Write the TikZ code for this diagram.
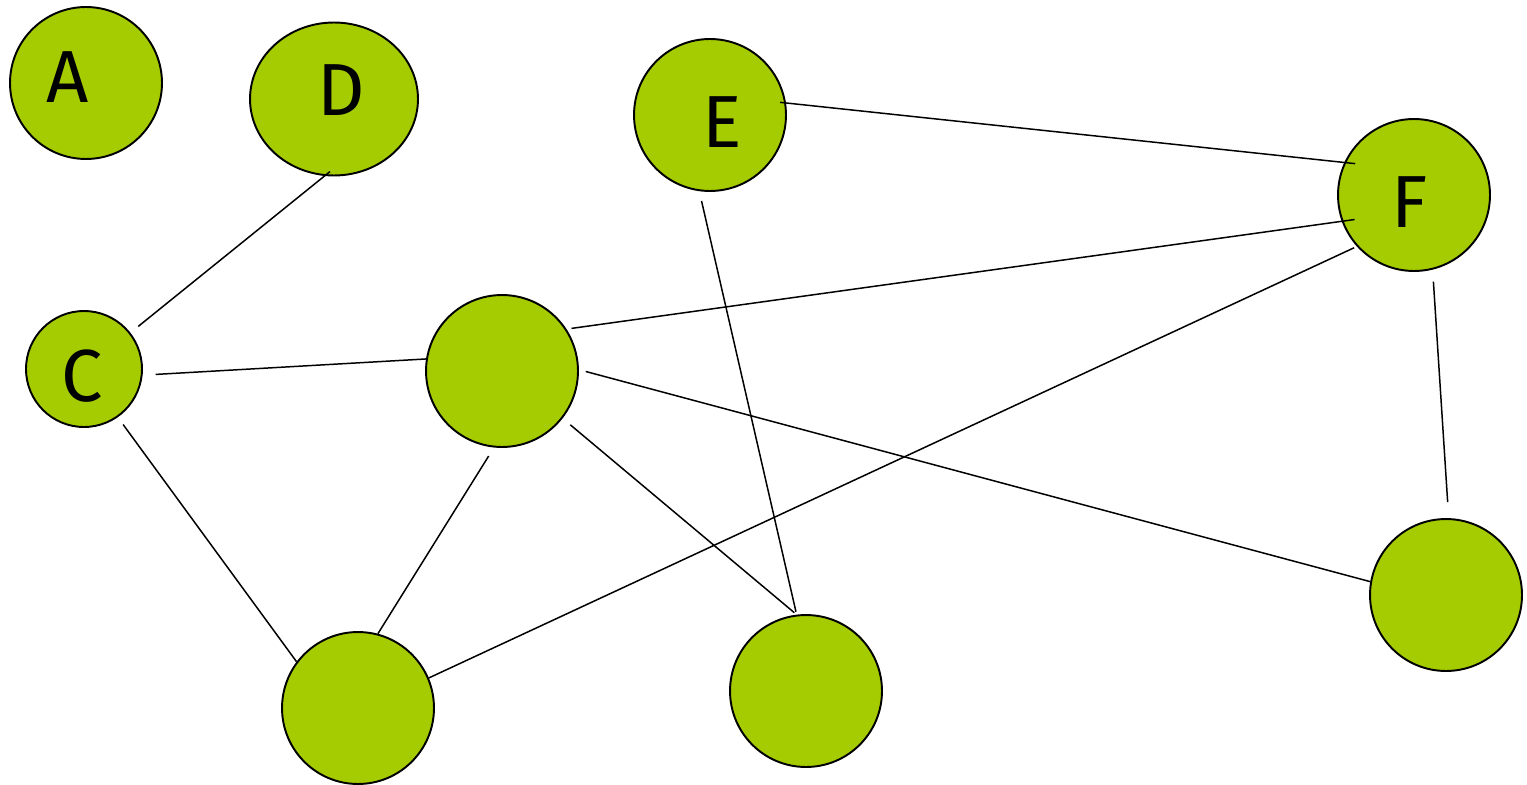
\documentclass[tikz,border=0pt]{standalone}
\usepackage{fontspec}
\setmainfont{Fira Sans}
\usepackage{tikz}
\usetikzlibrary{
  shapes.geometric,
}

\definecolor{vgreen}{HTML}{A5CC00}

\begin{document}
\begin{tikzpicture}[
  x=0.02cm, y=-0.02cm,
  vertex/.style={circle, draw, line width=1.1pt, fill=vgreen, inner sep=0pt, minimum size=3.04cm},
  letter/.style={inner sep=0pt, font=\fontsize{42}{44}\selectfont},
  edge/.style={line width=0.85pt},
]
  \useasboundingbox (0,0) rectangle (1527,784);

  % Vertices
  \node[vertex] (A)  at (86,83)   {};
  \node[vertex, ellipse, minimum width=3.36cm, minimum height=3.06cm] (D) at (334,99) {};
  \node[vertex] (E)  at (710,115) {};
  \node[vertex] (F)  at (1414,195) {};
  \node[vertex, minimum size=2.32cm] (C) at (84,369) {};
  \node[vertex] (M)  at (502,371) {};
  \node[vertex] (BL) at (358,708) {};
  \node[vertex] (BM) at (806,691) {};
  \node[vertex] (R)  at (1446,595) {};

  % Letters
  \node[letter] (A-text) at (68,77)   {A};
  \node[letter] (D-text) at (341,90)  {D};
  \node[letter] (E-text) at (722,122) {E};
  \node[letter] (F-text) at (1410,202) {F};
  \node[letter] (C-text) at (82,376)  {C};

  % Edges
  \draw[edge, shorten <=-0.14cm, shorten >=0.2cm] (D.263) -- (C.38);
  \draw[edge, shorten <=-0.12cm, shorten >=-0.22cm] (E.9) -- (F.155);
  \draw[edge, shorten <=-0.26cm, shorten >=0.1cm] (F.200) -- (M.33);
  \draw[edge, shorten <=0.06cm] (F.222) -- (BL.23);
  \draw[edge, shorten <=0.24cm, shorten >=0.32cm] (F.284) -- (R.88);
  \draw[edge, shorten <=0.26cm] (C.354) -- (M.171);
  \draw[edge, shorten <=0.18cm] (C.305) -- (BL.143);
  \draw[edge, shorten <=0.2cm] (M.264) -- (BL.75);
  \draw[edge, shorten <=0.2cm, shorten >=0.06cm] (M.322) -- (BM.97);
  \draw[edge, shorten <=0.2cm, shorten >=0.06cm] (E.262) -- (BM.97);
  \draw[edge, shorten <=0.14cm] (M.1) -- (R.170);
\end{tikzpicture}
\end{document}
